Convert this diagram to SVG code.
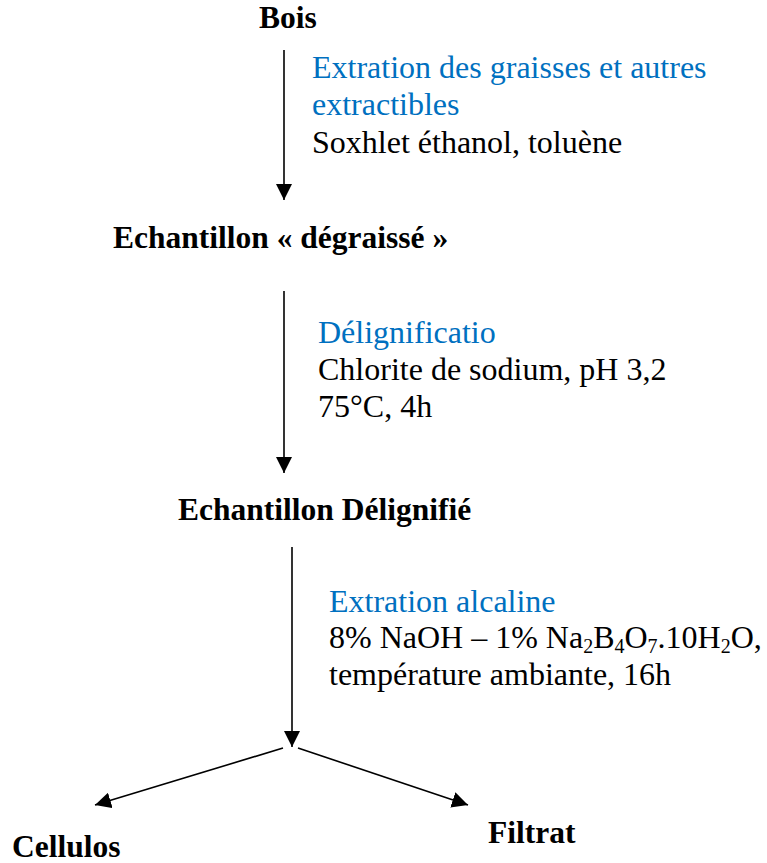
<svg xmlns="http://www.w3.org/2000/svg" width="767" height="863" viewBox="0 0 767 863">
<defs>
<style>
.n{font-family:"Liberation Serif","Times New Roman",serif;font-size:31.5px;font-weight:bold;fill:#000}
.b{font-family:"Liberation Serif","Times New Roman",serif;font-size:32px;fill:#0070C0}
.t{font-family:"Liberation Serif","Times New Roman",serif;font-size:32px;fill:#000}
.s{font-size:20px}
.c line{stroke:#000;stroke-width:1.6;fill:none;marker-end:url(#ah)}
</style>
<marker id="ah" markerUnits="userSpaceOnUse" viewBox="0 0 16 16" markerWidth="16" markerHeight="16" refX="16" refY="8" orient="auto">
<path d="M0,0 L16,8 L0,16 z" fill="#000"/>
</marker>
</defs>
<rect width="767" height="863" fill="#fff"/>
<g id="connectors" class="c">
<line x1="284" y1="50" x2="284" y2="200"/>
<line x1="284" y1="291" x2="284" y2="473"/>
<line x1="292" y1="547" x2="292" y2="747"/>
<line x1="283" y1="748" x2="95" y2="805"/>
<line x1="298" y1="748" x2="468" y2="805"/>
</g>
<g id="bois"><text class="n" x="259" y="28">Bois</text></g>
<g id="step1">
<text class="b" x="312" y="78">Extration des graisses et autres</text>
<text class="b" x="312" y="115">extractibles</text>
<text class="t" x="312" y="153">Soxhlet éthanol, toluène</text>
</g>
<g id="degraisse"><text class="n" x="113" y="248">Echantillon « dégraissé »</text></g>
<g id="step2">
<text class="b" x="318" y="343">Délignificatio</text>
<text class="t" x="318" y="380">Chlorite de sodium, pH 3,2</text>
<text class="t" x="318" y="417">75°C, 4h</text>
</g>
<g id="delignifie"><text class="n" x="178" y="520">Echantillon Délignifié</text></g>
<g id="step3">
<text class="b" x="329" y="612">Extration alcaline</text>
<text class="t" x="329" y="648">8% NaOH – 1% Na<tspan class="s" dy="5">2</tspan><tspan dy="-5">B</tspan><tspan class="s" dy="5">4</tspan><tspan dy="-5">O</tspan><tspan class="s" dy="5">7</tspan><tspan dy="-5">.10H</tspan><tspan class="s" dy="5">2</tspan><tspan dy="-5">O,</tspan></text>
<text class="t" x="329" y="685">température ambiante, 16h</text>
</g>
<g id="cellulos"><text class="n" x="12" y="857">Cellulos</text></g>
<g id="filtrat"><text class="n" x="488" y="843">Filtrat</text></g>
</svg>
